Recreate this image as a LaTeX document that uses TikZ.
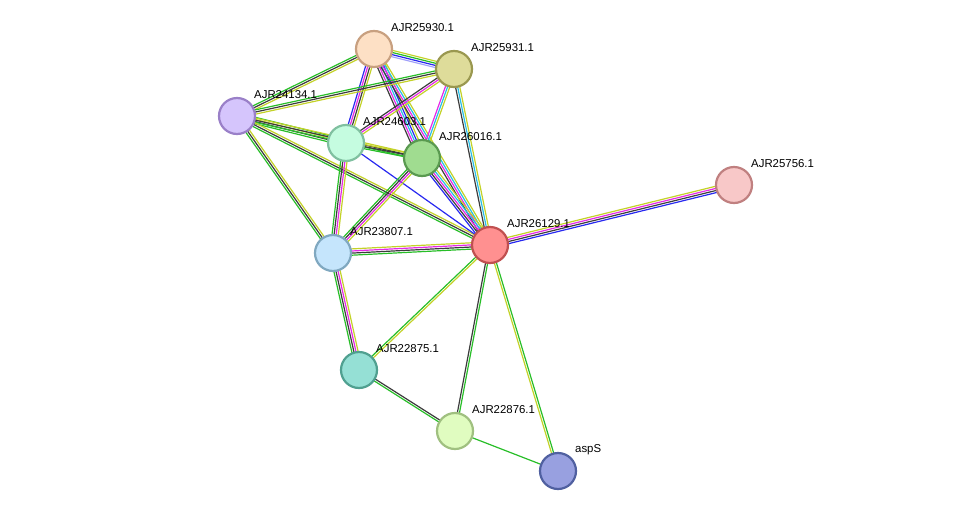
\documentclass[tikz,border=0pt]{standalone}
\usepackage{fontspec}
\setmainfont{Liberation Sans}
\usetikzlibrary{calc,backgrounds}
\definecolor{eg}{RGB}{40,190,40}
\definecolor{ey}{RGB}{195,210,40}
\definecolor{ek}{RGB}{60,60,60}
\definecolor{em}{RGB}{230,40,230}
\definecolor{ec}{RGB}{40,190,230}
\definecolor{eb}{RGB}{40,40,240}
\definecolor{el}{RGB}{160,160,250}
\definecolor{fa}{HTML}{FDE0C5}\definecolor{da}{HTML}{C8A080}
\definecolor{fb}{HTML}{DEDC9A}\definecolor{db}{HTML}{9A9850}
\definecolor{fc}{HTML}{D5C5FC}\definecolor{dc}{HTML}{9A80C8}
\definecolor{fd}{HTML}{C5FCE0}\definecolor{dd}{HTML}{80C0A0}
\definecolor{fe}{HTML}{A0DC90}\definecolor{de}{HTML}{5A9A50}
\definecolor{ff}{HTML}{F8C8C8}\definecolor{df}{HTML}{C08080}
\definecolor{fg}{HTML}{FF9090}\definecolor{dg}{HTML}{C05050}
\definecolor{fh}{HTML}{C5E5FC}\definecolor{dh}{HTML}{80A8C0}
\definecolor{fi}{HTML}{95E0D5}\definecolor{di}{HTML}{50A090}
\definecolor{fj}{HTML}{E0FCC0}\definecolor{dj}{HTML}{A0C080}
\definecolor{fk}{HTML}{98A0E0}\definecolor{dk}{HTML}{5060A0}
\newcommand\myedge[4]{%
  \foreach \c [count=\i] in {#4}{%
    \pgfmathsetmacro\o{(\i-(#3+1)/2)*2.1}%
    \draw[color=\c,line width=1.2pt] ($(#1.center)!\o pt!90:(#2.center)$) -- ($(#2.center)!\o pt!-90:(#1.center)$);
  }}
\begin{document}
\begin{tikzpicture}[x=1pt,y=-1pt,
  prot/.style={circle,minimum size=36pt,inner sep=0pt,line width=2.2pt},
  lab/.style={anchor=west,font=\fontsize{11.4}{12}\selectfont,inner sep=0pt}]
\useasboundingbox (0,0) rectangle (975,517);
\def\P#1#2#3#4{\node[prot,fill=f#1,draw=d#1] (#1) at (#2,#3) {};
  \node[lab] (#1l) at ($(#1.center)+(17,-21)$) {#4};}
\P{a}{374}{49}{AJR25930.1}
\P{b}{454}{69}{AJR25931.1}
\P{c}{237}{116}{AJR24134.1}
\P{d}{346}{143}{AJR24603.1}
\P{e}{422}{158}{AJR26016.1}
\P{f}{734}{185}{AJR25756.1}
\P{g}{490}{245}{AJR26129.1}
\P{h}{333}{253}{AJR23807.1}
\P{i}{359}{370}{AJR22875.1}
\P{j}{455}{431}{AJR22876.1}
\P{k}{558}{471}{aspS}
\begin{scope}[on background layer]
\myedge{a}{b}{4}{el,eb,eg,ey}
\myedge{a}{c}{3}{eg,ek,ey}
\myedge{a}{d}{4}{eb,em,ek,ey}
\myedge{a}{e}{5}{ek,em,ec,eb,ey}
\myedge{a}{g}{4}{ek,em,ec,ey}
\myedge{b}{c}{3}{eg,ek,ey}
\myedge{b}{d}{3}{ek,em,ey}
\myedge{b}{e}{3}{em,ec,ey}
\myedge{b}{g}{3}{ek,ec,ey}
\myedge{c}{d}{4}{eg,ek,ey,eg}
\myedge{c}{e}{3}{eg,ek,ey}
\myedge{c}{g}{3}{eg,ek,ey}
\myedge{c}{h}{3}{eg,ek,ey}
\myedge{d}{e}{3}{eg,ek,ey}
\myedge{d}{g}{1}{eb}
\myedge{d}{h}{4}{eg,ek,em,ey}
\myedge{e}{g}{5}{eb,ek,em,ec,ey}
\myedge{e}{h}{4}{eg,ek,em,ey}
\myedge{g}{h}{4}{ey,em,ek,eg}
\myedge{g}{f}{4}{eb,ek,em,ey}
\myedge{g}{i}{2}{eg,ey}
\myedge{g}{j}{2}{ek,eg}
\myedge{g}{k}{2}{ey,eg}
\myedge{h}{i}{4}{eg,ek,em,ey}
\myedge{i}{j}{2}{eg,ek}
\myedge{j}{k}{1}{eg}
\end{scope}
\end{tikzpicture}
\end{document}
